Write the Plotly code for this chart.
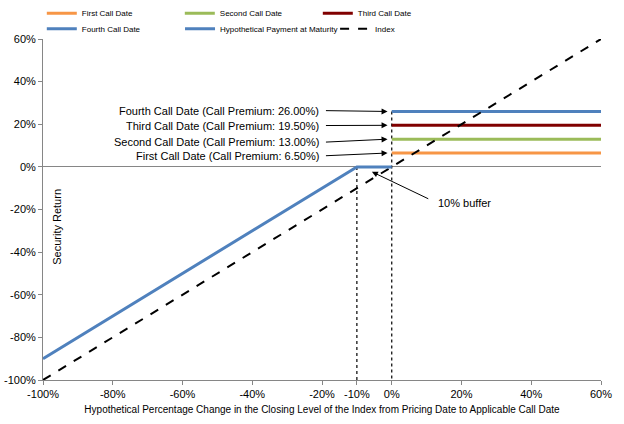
import plotly.graph_objects as go

# ---- data ----
call_names = ["First Call Date", "Second Call Date", "Third Call Date", "Fourth Call Date"]
call_premiums = [6.5, 13.0, 19.5, 26.0]
call_colors = ["#F79646", "#9BBB59", "#800000", "#4F81BD"]
call_x = [0, 60]

payment_x = [-100, -10, 0]
payment_y = [-90, 0, 0]

index_x = [-100, 60]
index_y = [-100, 60]

buffer_x = [-10, -10]
buffer_y = [0, -100]
call_date_x = [0, 0]
call_date_y = [26, -100]

x_tickvals = [-100, -80, -60, -40, -20, -10, 0, 20, 40, 60]
x_ticktext = ["-100%", "-80%", "-60%", "-40%", "-20%", "-10%", "0%", "20%", "40%", "60%"]
y_tickvals = [-100, -80, -60, -40, -20, 0, 20, 40, 60]
y_ticktext = ["-100%", "-80%", "-60%", "-40%", "-20%", "0%", "20%", "40%", "60%"]

label_texts = ["First Call Date (Call Premium: 6.50%)",
               "Second Call Date (Call Premium: 13.00%)",
               "Third Call Date (Call Premium: 19.50%)",
               "Fourth Call Date (Call Premium: 26.00%)"]
label_y = [5.2, 11.6, 19.4, 26.4]

FONT = "Liberation Sans, Arial, sans-serif"

fig = go.Figure()

# dotted verticals
fig.add_trace(go.Scatter(x=buffer_x, y=buffer_y, mode="lines", showlegend=False,
                         line=dict(color="black", width=1.2, dash="dot"), hoverinfo="skip"))
fig.add_trace(go.Scatter(x=call_date_x, y=call_date_y, mode="lines", showlegend=False,
                         line=dict(color="black", width=1.2, dash="dot"), hoverinfo="skip"))

for i in range(3):
    fig.add_trace(go.Scatter(x=call_x, y=[call_premiums[i]] * 2, mode="lines",
                             name=call_names[i], legend="legend", legendrank=i + 1,
                             line=dict(color=call_colors[i], width=3)))
fig.add_trace(go.Scatter(x=call_x, y=[call_premiums[3]] * 2, mode="lines",
                         name=call_names[3], legend="legend2",
                         line=dict(color=call_colors[3], width=3)))
fig.add_trace(go.Scatter(x=index_x, y=index_y, mode="lines", name="Index", legend="legend4",
                         line=dict(color="black", width=2, dash="dash")))
fig.add_trace(go.Scatter(x=payment_x, y=payment_y, mode="lines",
                         name="Hypothetical Payment at Maturity", legend="legend3",
                         line=dict(color="#4F81BD", width=3)))

annotations = []
for t, ly, p in zip(label_texts, label_y, call_premiums):
    annotations.append(dict(x=-20.4, y=ly, xref="x", yref="y", text=t, showarrow=False,
                            xanchor="right", yanchor="middle",
                            font=dict(family=FONT, size=11, color="black")))
    annotations.append(dict(x=-1.2, y=p, ax=-19.3, ay=ly, xref="x", yref="y",
                            axref="x", ayref="y", text="", showarrow=True,
                            arrowhead=2, arrowsize=1.2, arrowwidth=1, arrowcolor="black"))

annotations.append(dict(x=20.8, y=-16.9, xref="x", yref="y", text="10% buffer",
                        showarrow=False, font=dict(family=FONT, size=11, color="black")))
annotations.append(dict(x=-5.7, y=-2.3, ax=10.9, ay=-15.3, xref="x", yref="y",
                        axref="x", ayref="y", text="", showarrow=True,
                        arrowhead=2, arrowsize=1.2, arrowwidth=1, arrowcolor="black"))
annotations.append(dict(x=-96.2, y=-28, xref="x", yref="y", text="Security Return",
                        showarrow=False, textangle=-90,
                        font=dict(family=FONT, size=11, color="black")))

legend_common = dict(orientation="h", xanchor="left", yanchor="middle",
                     xref="container", yref="container",
                     bgcolor="rgba(0,0,0,0)",
                     font=dict(family=FONT, size=8, color="black"), itemwidth=30,
                     traceorder="normal")

fig.update_layout(
    width=624, height=424,
    margin=dict(l=43, r=23, t=39, b=44, autoexpand=False),
    paper_bgcolor="white", plot_bgcolor="white",
    font=dict(family=FONT, size=11, color="black"),
    annotations=annotations,
    legend=dict(x=0.067, y=0.969, entrywidth=93, entrywidthmode="pixels", **legend_common),
    legend2=dict(x=0.067, y=0.932, **legend_common),
    legend3=dict(x=0.2885, y=0.932, **legend_common),
    legend4=dict(x=0.537, y=0.932, **legend_common),
    xaxis=dict(range=[-100, 60], tickvals=x_tickvals, ticktext=x_ticktext,
               automargin=False,
               showgrid=False, zeroline=False, showline=True, linecolor="#868686",
               ticks="outside", ticklen=4, tickcolor="#868686",
               title=dict(text="Hypothetical Percentage Change in the Closing Level of the Index from Pricing Date to Applicable Call Date",
                          font=dict(family=FONT, size=10, color="black"), standoff=6),
               tickfont=dict(family=FONT, size=11, color="black")),
    yaxis=dict(range=[-100, 60], tickvals=y_tickvals, ticktext=y_ticktext,
               automargin=False,
               showgrid=False, zeroline=True, zerolinecolor="#868686", zerolinewidth=1,
               showline=True, linecolor="#868686",
               ticks="outside", ticklen=4, tickcolor="#868686",
               tickfont=dict(family=FONT, size=11, color="black")),
)

fig.write_html("out.html", config={"displayModeBar": False},
               post_script="document.body.style.margin='0px';")
